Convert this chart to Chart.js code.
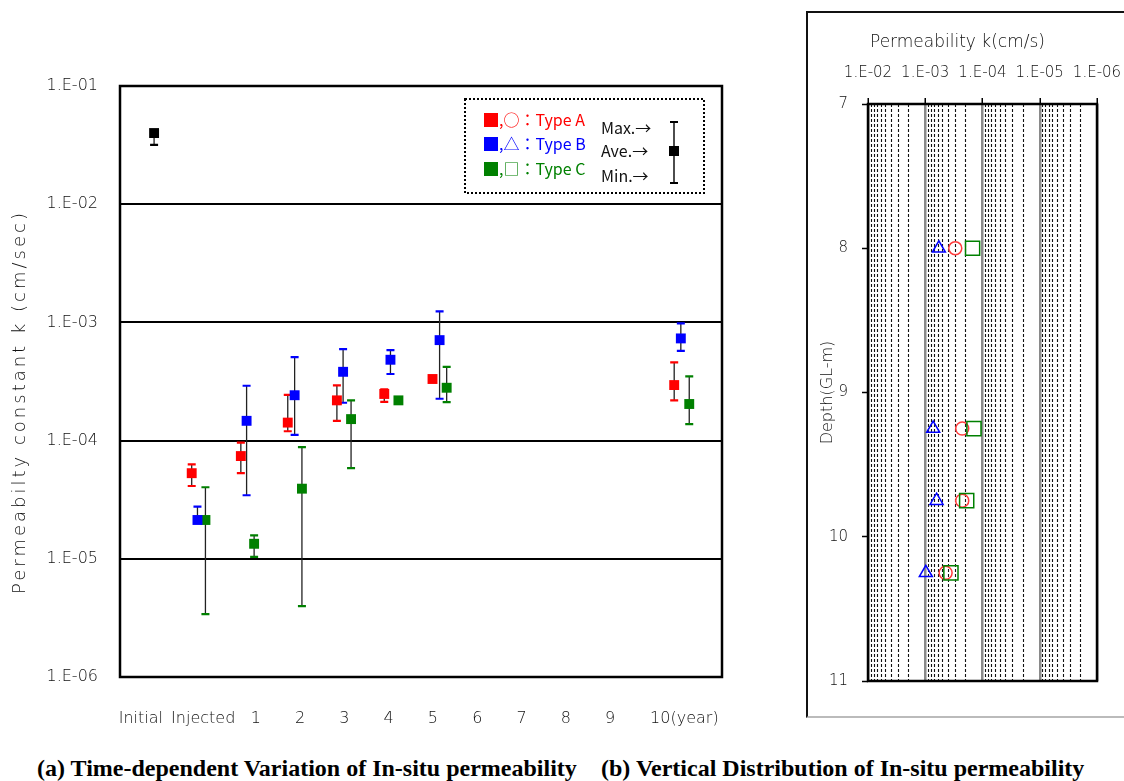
<!DOCTYPE html>
<html><head><meta charset="utf-8">
<script src="https://cdn.jsdelivr.net/npm/chart.js@4.4.1/dist/chart.umd.min.js"></script>
<style>
html,body{margin:0;padding:0;background:#fff;width:1124px;height:781px;overflow:hidden;position:relative;}
#ca{position:absolute;left:0;top:0;}
#panelB{position:absolute;left:806px;top:11px;width:340px;height:703px;border-left:2px solid #111;border-top:2px solid #111;border-bottom:2px solid #bbb;}
#cb{position:absolute;left:806px;top:12px;}
.cap{position:absolute;top:755px;line-height:27px;font-family:"Liberation Serif","Times New Roman",serif;font-weight:bold;font-size:24px;color:#000;white-space:nowrap;}
</style></head><body>
<canvas id="ca" width="760" height="730"></canvas>
<div id="panelB"></div>
<canvas id="cb" width="318" height="704"></canvas>
<div class="cap" style="left:37px">(a) Time-dependent Variation of In-situ permeability</div>
<div class="cap" style="left:601px">(b) Vertical Distribution of In-situ permeability</div>
<script>
// ---------- Chart (a) data ----------
const xTickLabels = ["Initial","Injected","1","2","3","4","5","6","7","8","9","10(year)"];
const xTickPositions = [-1.6,-0.19,1,2,3,4,5,6,7,8,9,10.68];
const yTickValues = [1e-1,1e-2,1e-3,1e-4,1e-5,1e-6];
const yTickLabels = ["1.E-01","1.E-02","1.E-03","1.E-04","1.E-05","1.E-06"];
const yAxisTitle = "Permeabilty constant k (cm/sec)";

const initialX   = [-1.3];
const initialAve = [0.040];
const initialMax = [0.042];
const initialMin = [0.0317];

const typeAX   = [-0.45, 0.66, 1.72, 2.83, 3.90, 4.99, 10.45];
const typeAAve = [5.3e-5, 7.4e-5, 1.42e-4, 2.19e-4, 2.48e-4, 3.32e-4, 2.95e-4];
const typeAMax = [6.3e-5, 9.6e-5, 2.44e-4, 2.93e-4, 2.72e-4, 3.40e-4, 4.59e-4];
const typeAMin = [4.13e-5, 5.3e-5, 1.20e-4, 1.47e-4, 2.13e-4, 3.25e-4, 2.19e-4];

const typeBX   = [-0.32, 0.79, 1.875, 2.97, 4.04, 5.15, 10.60];
const typeBAve = [2.13e-5, 1.47e-4, 2.42e-4, 3.82e-4, 4.83e-4, 7.08e-4, 7.32e-4];
const typeBMax = [2.76e-5, 2.91e-4, 5.09e-4, 5.95e-4, 5.83e-4, 1.24e-3, 9.8e-4];
const typeBMin = [2.05e-5, 3.45e-5, 1.12e-4, 2.09e-4, 3.66e-4, 2.26e-4, 5.75e-4];

const typeCX   = [-0.14, 0.96, 2.04, 3.15, 4.22, 5.31, 10.79];
const typeCAve = [2.13e-5, 1.34e-5, 3.92e-5, 1.52e-4, 2.19e-4, 2.80e-4, 2.04e-4];
const typeCMax = [4.03e-5, 1.58e-5, 8.8e-5, 2.19e-4, 2.25e-4, 4.21e-4, 3.50e-4];
const typeCMin = [3.4e-6, 1.04e-5, 3.97e-6, 5.86e-5, 2.10e-4, 2.12e-4, 1.38e-4];

const legendSymbols = [",○：Type A", ",△：Type B", ",□：Type C"];
const legendRange = ["Max.→", "Ave.→", "Min.→"];

// ---------- Chart (b) data ----------
const depthM      = [8.0, 9.25, 9.75, 10.25];
const depthTypeA  = [2.99e-4, 2.26e-4, 2.26e-4, 4.41e-4];
const depthTypeB  = [5.78e-4, 7.27e-4, 6.34e-4, 9.77e-4];
const depthTypeC  = [1.49e-4, 1.41e-4, 1.89e-4, 3.56e-4];
const kTickValues = [1e-2,1e-3,1e-4,1e-5,1e-6];
const kTickLabels = ["1.E-02","1.E-03","1.E-04","1.E-05","1.E-06"];
const depthTickValues = [7,8,9,10,11];
const kAxisTitle = "Permeability k(cm/s)";
const depthAxisTitle = "Depth(GL-m)";

const RED = "#ff0000", BLUE = "#0000ff", GREEN = "#008000", BLACK = "#000000";
const TICKFONT = {family:"DejaVu Sans", size:16, weight:"200"};

function pts(xs, ys){ return xs.map((x,i)=>({x:x, y:ys[i]})); }
function noPad(s){ s.paddingLeft = 0; s.paddingRight = 0; s.paddingTop = 0; s.paddingBottom = 0; }

const errorBarPlugin = {
  id:'errbars',
  beforeDatasetsDraw(chart){
    const ctx = chart.ctx, xs = chart.scales.x, ys = chart.scales.y;
    chart.data.datasets.forEach(ds=>{
      if(!ds.errMax) return;
      ds.data.forEach((p,i)=>{
        const px = xs.getPixelForValue(p.x);
        const yT = ys.getPixelForValue(ds.errMax[i]);
        const yB = ys.getPixelForValue(ds.errMin[i]);
        ctx.save();
        ctx.strokeStyle = '#222'; ctx.lineWidth = 1.3;
        ctx.beginPath(); ctx.moveTo(px,yT); ctx.lineTo(px,yB); ctx.stroke();
        ctx.strokeStyle = ds.backgroundColor; ctx.lineWidth = 2.2;
        ctx.beginPath();
        ctx.moveTo(px-4,yT); ctx.lineTo(px+4,yT);
        ctx.moveTo(px-4,yB); ctx.lineTo(px+4,yB);
        ctx.stroke();
        ctx.restore();
      });
    });
  }
};

const frameAPlugin = {
  id:'frameA',
  afterDatasetsDraw(chart){
    const ctx = chart.ctx, a = chart.chartArea;
    ctx.save();
    ctx.strokeStyle = '#000'; ctx.lineWidth = 2.5;
    ctx.strokeRect(a.left, a.top, a.right-a.left, a.bottom-a.top);
    // y axis title
    ctx.translate(20, 402); ctx.rotate(-Math.PI/2);
    ctx.font = '200 18px "DejaVu Sans"';
    try { ctx.letterSpacing = '3px'; } catch(e) {}
    ctx.textAlign = 'center'; ctx.textBaseline = 'middle'; ctx.fillStyle = '#111';
    ctx.fillText(yAxisTitle, 0, 0);
    ctx.restore();
  },
  afterDraw(chart){
    const ctx = chart.ctx;
    ctx.save();
    // dotted legend box
    ctx.setLineDash([2,2]); ctx.lineWidth = 2; ctx.strokeStyle = '#000';
    ctx.strokeRect(465, 99, 239, 94);
    ctx.setLineDash([]);
    const cols = [RED, BLUE, GREEN];
    const ys = [120, 144, 169];
    ctx.textBaseline = 'middle';
    for (let i=0;i<3;i++){
      ctx.fillStyle = cols[i];
      ctx.fillRect(484, ys[i]-7, 14, 14);
      ctx.font = '16px "Noto Sans CJK JP"';
      ctx.textAlign = 'left';
      ctx.fillText(legendSymbols[i], 499, ys[i]);
    }
    const ry = [128, 151, 176];
    ctx.fillStyle = '#111';
    ctx.font = '16px "Noto Sans CJK JP"';
    for (let i=0;i<3;i++) ctx.fillText(legendRange[i], 601, ry[i]);
    // sample error bar
    ctx.strokeStyle = '#000'; ctx.lineWidth = 1.4;
    ctx.beginPath(); ctx.moveTo(674,122); ctx.lineTo(674,183); ctx.stroke();
    ctx.lineWidth = 2;
    ctx.beginPath(); ctx.moveTo(670,122); ctx.lineTo(678,122); ctx.moveTo(670,183); ctx.lineTo(678,183); ctx.stroke();
    ctx.fillStyle = '#000'; ctx.fillRect(669, 146, 10, 10);
    ctx.restore();
  }
};

function mkDs(label, xs, ave, mx, mn, color){
  return {label:label, data:pts(xs,ave), errMax:mx, errMin:mn, backgroundColor:color, borderColor:color,
          borderWidth:0, pointStyle:'rect', pointRadius:7, showLine:false};
}

new Chart(document.getElementById('ca'), {
  type:'scatter',
  data:{datasets:[
    mkDs('Initial', initialX, initialAve, initialMax, initialMin, BLACK),
    mkDs('Type A', typeAX, typeAAve, typeAMax, typeAMin, RED),
    mkDs('Type B', typeBX, typeBAve, typeBMax, typeBMin, BLUE),
    mkDs('Type C', typeCX, typeCAve, typeCMax, typeCMin, GREEN)
  ]},
  options:{
    responsive:false, animation:false, events:[],
    layout:{padding:{left:0, top:86, right:38, bottom:0}},
    plugins:{legend:{display:false}, tooltip:{enabled:false}},
    scales:{
      x:{type:'linear', min:-2.07, max:11.53,
         afterBuildTicks:s=>{ s.ticks = xTickPositions.map(v=>({value:v})); },
         afterFit:s=>{ s.height = 53; noPad(s); },
         grid:{display:false}, border:{display:false},
         ticks:{autoSkip:false, maxRotation:0, minRotation:0, padding:24, color:'#111', font:TICKFONT,
                callback:(v,i)=>xTickLabels[i]}},
      y:{type:'logarithmic', min:1e-6, max:1e-1,
         afterBuildTicks:s=>{ s.ticks = yTickValues.map(v=>({value:v})); },
         afterFit:s=>{ s.width = 120; noPad(s); },
         grid:{color:'#000', lineWidth:2, drawTicks:false}, border:{display:false},
         ticks:{autoSkip:false, padding:22, color:'#111', font:TICKFONT,
                callback:(v,i)=>yTickLabels[i]}}
    }
  },
  plugins:[errorBarPlugin, frameAPlugin]
});

// ---------- Chart (b) ----------
const gridBPlugin = {
  id:'gridB',
  beforeDatasetsDraw(chart){
    const ctx = chart.ctx, xs = chart.scales.x, a = chart.chartArea;
    ctx.save();
    ctx.setLineDash([3,2]); ctx.strokeStyle = '#111'; ctx.lineWidth = 1.1;
    for (let e=-6; e<-2; e++){
      for (let m=2; m<=9; m++){
        const px = Math.round(xs.getPixelForValue(m*Math.pow(10,e))) + 0.5;
        ctx.beginPath(); ctx.moveTo(px, a.top); ctx.lineTo(px, a.bottom); ctx.stroke();
      }
    }
    ctx.restore();
  },
  afterDatasetsDraw(chart){
    const ctx = chart.ctx, a = chart.chartArea;
    ctx.save();
    ctx.strokeStyle = '#000'; ctx.lineWidth = 2.5;
    ctx.strokeRect(a.left, a.top, a.right-a.left, a.bottom-a.top);
    ctx.font = '200 17px "DejaVu Sans"';
    ctx.fillStyle = '#111'; ctx.textAlign = 'left'; ctx.textBaseline = 'middle';
    ctx.fillText(kAxisTitle, a.left + 2, 31);
    ctx.restore();
  }
};

const TICKFONT_B = {family:"DejaVu Sans", size:15, weight:"200"};
new Chart(document.getElementById('cb'), {
  type:'scatter',
  data:{datasets:[
    {label:'Type C', data:pts(depthTypeC, depthM), pointStyle:'rect', pointRadius:10, borderColor:GREEN, backgroundColor:'rgba(0,0,0,0)', borderWidth:1.5},
    {label:'Type A', data:pts(depthTypeA, depthM), pointStyle:'circle', pointRadius:6.5, borderColor:'#ff3b3b', backgroundColor:'rgba(0,0,0,0)', borderWidth:1.5},
    {label:'Type B', data:pts(depthTypeB, depthM), pointStyle:'triangle', pointRadius:7.5, borderColor:BLUE, backgroundColor:'rgba(0,0,0,0)', borderWidth:1.5}
  ]},
  options:{
    responsive:false, animation:false, events:[],
    layout:{padding:{left:0, top:0, right:27, bottom:35}},
    plugins:{legend:{display:false}, tooltip:{enabled:false}},
    scales:{
      x:{type:'logarithmic', position:'top', reverse:true, min:1e-6, max:1e-2,
         afterBuildTicks:s=>{ s.ticks = kTickValues.map(v=>({value:v})); },
         afterFit:s=>{ s.height = 92; noPad(s); },
         grid:{color:'#8a8a8a', lineWidth:2.5, drawTicks:true, tickLength:6, tickColor:'#000', tickWidth:1.5},
         border:{display:false},
         ticks:{autoSkip:false, maxRotation:0, minRotation:0, padding:16, color:'#111', font:TICKFONT_B,
                callback:(v,i)=>kTickLabels[i]}},
      y:{type:'linear', reverse:true, min:7, max:11,
         afterBuildTicks:s=>{ s.ticks = depthTickValues.map(v=>({value:v})); },
         afterFit:s=>{ s.width = 62; noPad(s); },
         grid:{drawOnChartArea:false, drawTicks:true, tickLength:6, tickColor:'#000', tickWidth:1.5},
         border:{display:false},
         title:{display:true, text:depthAxisTitle, color:'#111', padding:{top:12, bottom:0},
                font:{family:"DejaVu Sans", size:16, weight:"200"}},
         ticks:{autoSkip:false, padding:14, color:'#111', font:TICKFONT_B,
                callback:(v)=>String(v)}}
    }
  },
  plugins:[gridBPlugin]
});
</script>
</body></html>
